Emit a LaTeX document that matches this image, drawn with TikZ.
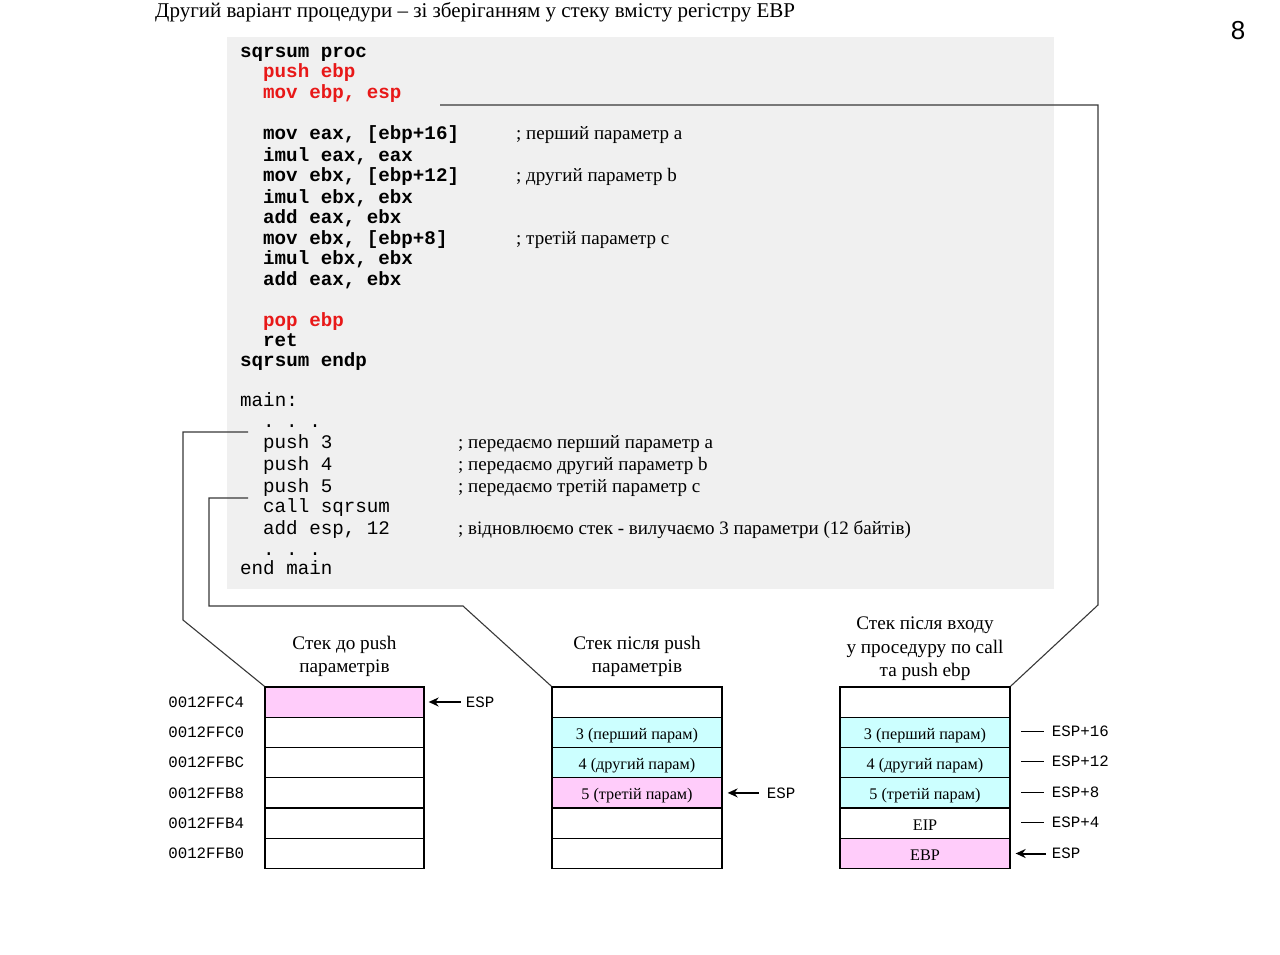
\documentclass[tikz,border=0pt]{standalone}
\usepackage{fontspec}
\setmainfont{Liberation Serif}
\setsansfont{Liberation Sans}
\setmonofont{Liberation Mono}
\usepackage{tikz}
\usetikzlibrary{positioning,arrows.meta}

\definecolor{codegray}{HTML}{F0F0F0}
\definecolor{cellpink}{HTML}{FFCCFA}
\definecolor{cellcyan}{HTML}{CCFFFF}
\definecolor{codered}{HTML}{E81818}
\definecolor{linkgray}{HTML}{383838}

\newcommand{\codefont}{\fontsize{19.2}{20}\selectfont\ttfamily\bfseries}
\newcommand{\maincodefont}{\fontsize{19.2}{20}\selectfont\ttfamily}
\newcommand{\notefont}{\fontsize{19}{20}\selectfont\rmfamily}
\newcommand{\cellfont}{\fontsize{16.2}{17}\selectfont\rmfamily}
\newcommand{\addrfont}{\fontsize{15.8}{16}\selectfont\ttfamily}

\tikzset{
  code/.style={anchor=base west, inner sep=0pt, font=\codefont},
  redcode/.style={code, text=codered},
  maincode/.style={anchor=base west, inner sep=0pt, font=\maincodefont},
  note/.style={anchor=base west, inner sep=0pt, font=\notefont},
  cell/.style={draw, line width=1.3pt, minimum height=30.3pt, inner sep=0pt,
    text height=15pt, text depth=1pt, font=\cellfont},
  stacktitle/.style={align=center, inner sep=0pt, font=\fontsize{19.2}{23.5}\selectfont\rmfamily},
  addr/.style={inner sep=0pt, font=\addrfont},
  ptr/.style={-{Stealth[length=10pt,width=9pt]}, line width=2pt},
  link/.style={linkgray, line width=1.1pt}
}

\begin{document}
\begin{tikzpicture}[x=1pt,y=-1pt]
\useasboundingbox (0,0) rectangle (1280,955);

% heading and slide number
\node[anchor=base west, inner sep=0pt, font=\fontsize{21}{22}\selectfont] (head) at (155,18)
  {Другий варіант процедури -- зі зберіганням у стеку вмісту регістру EBP};
\node[font=\fontsize{26}{28}\selectfont\sffamily] (pagenum) at (1238,31) {8};

% code background
\node[fill=codegray, minimum width=827pt, minimum height=552pt, inner sep=0pt] (codebox) at (640.5,313) {};

% procedure
\node[code] (l1) at (240,58) {sqrsum proc};
\node[redcode] (l2) at (263,78) {push ebp};
\node[redcode] (l3) at (263,99) {mov ebp, esp};
\node[code] (l4) at (263,140) {mov eax, [ebp+16]};
\node[code] (l5) at (263,161) {imul eax, eax};
\node[code] (l6) at (263,182) {mov ebx, [ebp+12]};
\node[code] (l7) at (263,203) {imul ebx, ebx};
\node[code] (l8) at (263,223) {add eax, ebx};
\node[code] (l9) at (263,244) {mov ebx, [ebp+8]};
\node[code] (l10) at (263,264) {imul ebx, ebx};
\node[code] (l11) at (263,285) {add eax, ebx};
\node[redcode] (l12) at (263,326) {pop ebp};
\node[code] (l13) at (263,346) {ret};
\node[code] (l14) at (240,366) {sqrsum endp};

\node[note] (n4) at (516,140) {; перший параметр a};
\node[note] (n6) at (516,182) {; другий параметр b};
\node[note] (n9) at (516,244) {; третій параметр c};

% main
\node[maincode] (m1) at (240,406) {main:};
\node[maincode] (m2) at (263,427) {.\ .\ .};
\node[maincode] (m3) at (263,448) {push 3};
\node[maincode] (m4) at (263,470) {push 4};
\node[maincode] (m5) at (263,492) {push 5};
\node[maincode] (m6) at (263,512) {call sqrsum};
\node[maincode] (m7) at (263,534) {add esp, 12};
\node[maincode] (m8) at (263,555) {.\ .\ .};
\node[maincode] (m9) at (240,574) {end main};

\node[note] (k3) at (458,448) {; передаємо перший параметр a};
\node[note] (k4) at (458,470) {; передаємо другий параметр b};
\node[note] (k5) at (458,492) {; передаємо третій параметр c};
\node[note] (k7) at (458,534) {; відновлюємо стек - вилучаємо 3 параметри (12 байтів)};

% stack before push
\foreach \i/\f in {1/cellpink,2/white,3/white,4/white,5/white,6/white}
  \node[cell, fill=\f, minimum width=159pt] (a\i) at (344.5,{671.7+30.3*\i}) {};
\foreach \i/\t in {1/0012FFC4,2/0012FFC0,3/0012FFBC,4/0012FFB8,5/0012FFB4,6/0012FFB0}
  \node[addr, anchor=east] (ad\i) at ([xshift=-20pt]a\i.west) {\t};
\node[stacktitle, above=9pt of a1] (ta) {Стек до push\\параметрів};
\node[addr, right=41pt of a1] (espa) {ESP};
\draw[ptr, shorten <=5pt, shorten >=4pt] (espa.west) -- (a1.east);

% stack after push
\foreach \i/\f/\t in {1/white/{},2/cellcyan/3 (перший парам),3/cellcyan/4 (другий парам),
    4/cellpink/5 (третій парам),5/white/{},6/white/{}}
  \node[cell, fill=\f, minimum width=170pt] (b\i) at (637,{671.7+30.3*\i}) {\t};
\node[stacktitle, above=9pt of b1] (tb) {Стек після push\\параметрів};
\node[addr, right=44pt of b4] (espb) {ESP};
\draw[ptr, shorten <=8pt, shorten >=5pt] (espb.west) -- (b4.east);

% stack inside procedure
\foreach \i/\f/\t in {1/white/{},2/cellcyan/3 (перший парам),3/cellcyan/4 (другий парам),
    4/cellcyan/5 (третій парам),5/white/EIP,6/cellpink/EBP}
  \node[cell, fill=\f, minimum width=170pt] (c\i) at (925,{671.7+30.3*\i}) {\t};
\node[stacktitle, above=5pt of c1] (tc) {Стек після входу\\у проседуру по call\\та push ebp};
\foreach \i/\t in {2/ESP+16,3/ESP+12,4/ESP+8,5/ESP+4} {
  \node[addr, anchor=west] (o\i) at ([xshift=41pt,yshift=1pt]c\i.east) {\t};
  \draw[line width=0.8pt, shorten <=8pt, shorten >=10pt] (o\i.west) -- (o\i.west -| c\i.east);
}
\node[addr, right=41pt of c6] (espc) {ESP};
\draw[ptr, shorten <=6pt, shorten >=5pt] (espc.west) -- (c6.east);

% links from code to stacks
\coordinate (fromproc) at (440,105);
\coordinate (fromdots) at (248,432);
\coordinate (fromcall) at (248,498);
\draw[link] (fromproc) -- (1098,105) -- (1098,605) -- (c1.north east);
\draw[link] (fromdots) -- (183,432) -- (183,620) -- (a1.north west);
\draw[link] (fromcall) -- (209,498) -- (209,606) -- (463,606) -- (b1.north west);

\end{tikzpicture}
\end{document}
